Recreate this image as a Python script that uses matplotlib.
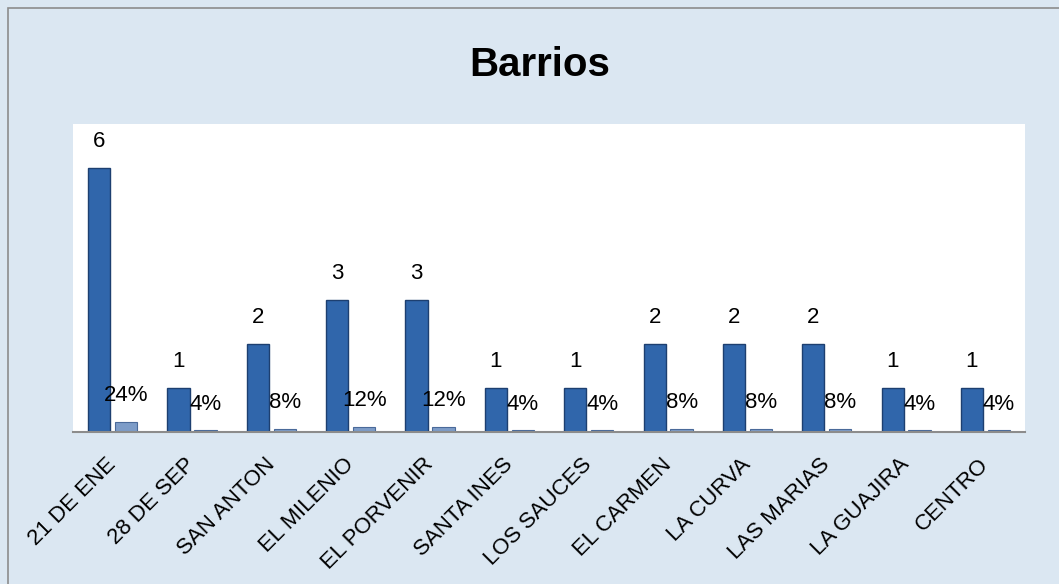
import matplotlib.pyplot as plt
from matplotlib.patches import Rectangle
import numpy as np

barrios = ["21 DE ENE", "28 DE SEP", "SAN ANTON", "EL MILENIO", "EL PORVENIR",
           "SANTA INES", "LOS SAUCES", "EL CARMEN", "LA CURVA", "LAS MARIAS",
           "LA GUAJIRA", "CENTRO"]
cantidad = [6, 1, 2, 3, 3, 1, 1, 2, 2, 2, 1, 1]
porcentaje = [0.24, 0.04, 0.08, 0.12, 0.12, 0.04, 0.04, 0.08, 0.08, 0.08, 0.04, 0.04]

plt.rcParams['font.family'] = ['Liberation Sans', 'DejaVu Sans']

bg = "#dbe7f2"
fig = plt.figure(figsize=(10.59, 5.84), dpi=100, facecolor=bg)
fig.patches.append(Rectangle((0.0075, -0.01), 0.995, 0.997, transform=fig.transFigure,
                             fill=False, edgecolor="#8c8c8c", linewidth=1.2))

ax = fig.add_axes([0.069, 0.260, 0.899, 0.528])
ax.set_facecolor("white")

x = np.arange(len(barrios))
w = 0.28
off = 0.17
ax.bar(x - off, cantidad, w, color="#3066ab", edgecolor="#1d3f70", linewidth=1.0)
ax.bar(x + off, porcentaje, w, color="#7d9cc8", edgecolor="#4a6a9a", linewidth=0.8)

for xi, v in zip(x, cantidad):
    ax.annotate(str(v), (xi - off, v), xytext=(0, 19), textcoords="offset points",
                ha="center", va="center", fontsize=16)
for xi, v in zip(x, porcentaje):
    ax.annotate(f"{v:.0%}", (xi + off, v), xytext=(0, 19), textcoords="offset points",
                ha="center", va="center", fontsize=16)

ax.set_xlim(-0.5, len(barrios) - 0.5)
ax.set_ylim(0, 7)
ax.set_yticks([])
ax.set_xticks(x)
ax.set_xticklabels(barrios, rotation=45, ha="right", va="center",
                   rotation_mode="anchor", fontsize=16)
ax.tick_params(axis="x", length=0, pad=21)
for s in ["top", "right", "left"]:
    ax.spines[s].set_visible(False)
ax.spines["bottom"].set_color("#8c8c8c")
ax.spines["bottom"].set_linewidth(1.5)

fig.text(0.51, 0.888, "Barrios", ha="center", va="center", fontsize=29, fontweight="bold")

fig.savefig("out.png", dpi=100, facecolor=bg)
